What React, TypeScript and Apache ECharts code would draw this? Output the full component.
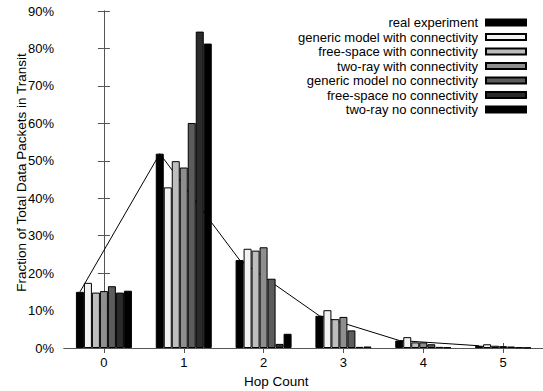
import React, { useEffect, useRef } from "react";
import * as echarts from "echarts";

const hops = [0, 1, 2, 3, 4, 5];
const seriesNames = [
  "real experiment",
  "generic model with connectivity",
  "free-space with connectivity",
  "two-ray with connectivity",
  "generic model no connectivity",
  "free-space no connectivity",
  "two-ray no connectivity",
];
const realExperiment = [15.0, 51.9, 23.5, 8.6, 2.0, 0.6];
const genericWith = [17.4, 42.9, 26.5, 10.1, 2.9, 1.0];
const freeSpaceWith = [14.8, 49.9, 26.0, 7.7, 1.5, 0.6];
const twoRayWith = [15.2, 48.2, 26.9, 8.3, 1.5, 0.5];
const genericNo = [16.5, 60.1, 18.5, 4.7, 1.0, 0.4];
const freeSpaceNo = [14.8, 84.5, 1.1, 0.3, 0.3, 0.2];
const twoRayNo = [15.3, 81.3, 3.8, 0.4, 0.2, 0.1];
const yTicks = [0, 10, 20, 30, 40, 50, 60, 70, 80, 90];

const allSeries = [realExperiment, genericWith, freeSpaceWith, twoRayWith, genericNo, freeSpaceNo, twoRayNo];
const colors = ["#000000", "#f2f2f2", "#bebebe", "#8e8e8e", "#5c5c5c", "#2b2b2b", "#000000"];

const BAR_W = 8; // px
const UNIT_PX = 80; // px per hop
const FONT = "Liberation Sans, Arial, Helvetica, sans-serif";

export default function App() {
  const ref = useRef<HTMLDivElement>(null);
  useEffect(() => {
    if (!ref.current) return;
    const chart = echarts.init(ref.current, null, { renderer: "svg" });
    const firstOffset = (-(allSeries.length - 1) / 2 * BAR_W) / UNIT_PX;
    const axisColor = "#555";
    const option: any = {
      animation: false,
      textStyle: { fontFamily: FONT, color: "#000" },
      grid: { left: 64, top: 11, width: 480, height: 337 },
      legend: {
        data: seriesNames,
        orient: "vertical",
        right: 16,
        top: 16,
        padding: 0,
        align: "right",
        itemWidth: 40,
        itemHeight: 6,
        itemGap: 1.5,
        icon: "rect",
        selectedMode: false,
        textStyle: { fontFamily: FONT, fontSize: 13, color: "#000", lineHeight: 13, padding: [0, 3, 0, 0] },
      },
      xAxis: [
        {
          type: "value",
          min: -0.5,
          max: 5.5,
          splitLine: { show: false },
          axisLine: { show: true, lineStyle: { color: axisColor } },
          axisTick: { show: true, inside: true, length: 5, customValues: hops, lineStyle: { color: axisColor } },
          axisLabel: { customValues: hops, fontSize: 13, color: "#000", margin: 8, fontFamily: FONT },
        },
        {
          type: "value",
          position: "top",
          min: -0.5,
          max: 5.5,
          splitLine: { show: false },
          axisLine: { show: true, lineStyle: { color: axisColor } },
          axisTick: { show: true, inside: true, length: 5, customValues: hops, lineStyle: { color: axisColor } },
          axisLabel: { show: false, customValues: hops },
        },
      ],
      yAxis: [
        {
          type: "value",
          min: yTicks[0],
          max: yTicks[yTicks.length - 1],
          interval: 10,
          splitLine: { show: false },
          axisLine: { show: true, lineStyle: { color: axisColor } },
          axisTick: { show: true, inside: true, length: 6, lineStyle: { color: axisColor } },
          axisLabel: { formatter: "{value}%", fontSize: 13, color: "#000", margin: 10, fontFamily: FONT },
          name: "Fraction of Total Data Packets in Transit",
          nameLocation: "middle",
          nameGap: 36,
          nameMoveOverlap: false,
          nameTextStyle: { fontSize: 13.5, color: "#000", fontFamily: FONT, padding: [0, 0, 0, 14] },
        },
        {
          type: "value",
          position: "right",
          min: yTicks[0],
          max: yTicks[yTicks.length - 1],
          interval: 10,
          splitLine: { show: false },
          axisLine: { show: true, lineStyle: { color: axisColor } },
          axisTick: { show: true, inside: true, length: 6, lineStyle: { color: axisColor } },
          axisLabel: { show: false },
        },
      ],
      graphic: [
        {
          type: "text",
          left: 244,
          top: 374,
          style: { text: "Hop Count", font: `13.5px ${FONT}`, fill: "#000" },
        },
      ],
      series: [
        {
          type: "line",
          name: "real-line",
          z: 1,
          xAxisIndex: 0,
          yAxisIndex: 0,
          symbol: "none",
          lineStyle: { color: "#000", width: 1 },
          data: hops.map((h, i) => [h + firstOffset, realExperiment[i]]),
        },
        ...allSeries.map((vals, si) => ({
          type: "bar",
          name: seriesNames[si],
          z: 2,
          xAxisIndex: 0,
          yAxisIndex: 0,
          barWidth: BAR_W,
          barGap: "0%",
          itemStyle: { color: colors[si], borderColor: "#000", borderWidth: 1 },
          data: hops.map((h, i) => [h, vals[i]]),
        })),
      ],
    };
    chart.setOption(option);
    return () => chart.dispose();
  }, []);
  return (
    <div
      ref={ref}
      style={{ position: "fixed", left: 0, top: 0, width: 543, height: 391, background: "#fff" }}
    />
  );
}
